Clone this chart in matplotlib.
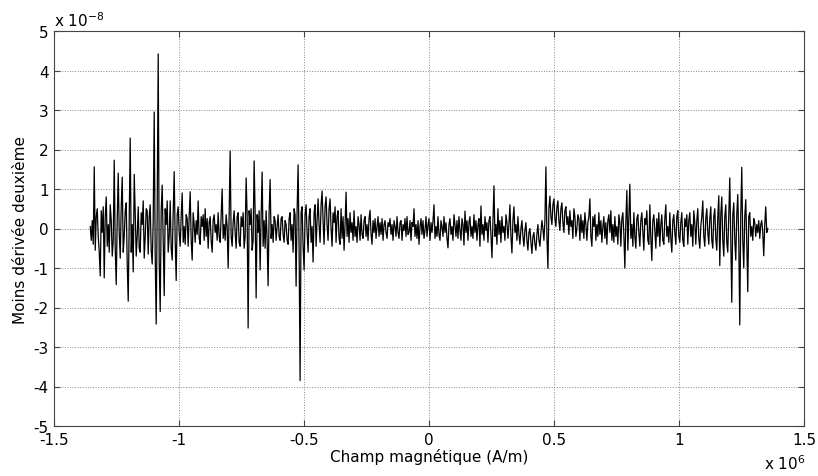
import matplotlib
matplotlib.use("Agg")
import matplotlib.pyplot as plt
from matplotlib.ticker import FuncFormatter
import numpy as np

# champ magnetique : de -1.355e6 a 1.355e6 A/m, une valeur lue par pixel
h_min, h_max = -1.355e6, 1.355e6

# moins derivee deuxieme, en unites de 1e-8, lue par troncons de 50 points
seg1 = [0.05, -0.3, 0.2, -0.4, 1.56, -0.55, 0.3, 0.5, -0.2, -0.6,
        -1.2, 0.45, -0.1, 0.55, -1.25, 0.3, 0.8, -0.45, 0.1, -0.6,
        0.6, 0.2, -0.7, -0.3, 1.73, -0.5, -1.42, 0.25, 1.4, -0.1,
        -0.75, 0.55, 1.3, -0.6, -0.2, 0.45, 0.65, -0.9, -1.84, 0.3,
        2.29, -0.6, 0.1, -1.1, 1.37, 0.4, -0.7, -0.2, 0.55, -0.5]
seg2 = [-0.6, 0.4, 0.1, 0.7, -0.75, -0.2, 0.5, 0.45, -0.65, 0.3,
        0.6, -0.55, -0.9, 0.2, 2.95, -0.7, -2.42, 0.5, 4.42, -0.8,
        -2.1, 0.45, 1.1, -0.3, -1.7, 0.5, 0.1, 0.7, -0.6, -0.2,
        0.7, -0.5, -0.8, 0.4, 1.44, -0.3, -1.32, 0.35, 0.55, -0.1,
        -0.45, 0.3, 0.9, -0.35, 0.05, -0.4, 0.35, 0.25, -0.45, 0.3]
seg3 = [0.93, -0.3, -0.8, 0.4, 0.1, -0.35, 0.2, -0.15, 0.7, -0.25,
        -0.4, 0.3, 0.05, 0.35, -0.3, 0.5, -0.2, 0.25, -0.5, 0.15,
        0.3, -0.3, -0.6, 0.2, 0.35, -0.1, 0.1, -0.3, 0.4, -0.2,
        -0.35, 0.3, 1.0, -0.25, 0.1, -0.3, 0.35, 0.05, -1.0, 0.35,
        1.96, -0.2, -0.45, 0.15, 0.45, -0.1, -0.5, 0.3, 0.4, -0.35]
seg4 = [-0.45, 0.3, 0.05, 0.4, -0.5, -0.2, 1.28, 0.35, -2.52, 0.45,
        0.1, 0.5, -0.55, -0.3, 1.71, 0.4, -1.76, 0.35, -0.1, 0.45,
        -1.05, 0.3, 1.43, -0.45, 0.2, -0.5, 0.45, -0.3, -1.45, 0.4,
        1.24, -0.25, 0.1, -0.35, 0.3, 0.2, -0.3, 0.05, 0.35, -0.2,
        -0.3, 0.25, 0.3, -0.15, -0.35, 0.2, 0.1, -0.3, -0.4, 0.25]
seg5 = [0.4, -0.3, 0.1, -0.6, 0.5, 0.35, -1.46, 0.45, 1.61, -0.5,
        -3.85, 0.4, 0.55, -0.45, -1.05, 0.35, 0.6, -0.1, -0.6, 0.3,
        0.5, -0.35, 0.05, -0.85, 0.4, 0.6, -0.45, 0.2, 0.75, 0.1,
        -0.35, 0.6, 0.95, 0.2, -0.4, 0.55, 0.8, 0.1, -0.3, 0.5,
        0.75, 0.0, -0.45, 0.4, 0.15, 0.55, -0.35, 0.3, 0.45, -0.25]
seg6 = [-0.4, 0.5, -0.25, 0.3, -0.55, 0.1, 0.92, -0.2, 0.25, -0.35,
        0.4, -0.1, 0.15, -0.3, 0.45, -0.2, 0.05, -0.35, 0.3, 0.1,
        -0.3, 0.35, -0.15, -0.25, 0.2, 0.3, -0.2, 0.1, -0.3, 0.25,
        0.46, -0.15, -0.4, 0.2, -0.1, 0.25, -0.25, 0.05, 0.3, -0.2,
        0.15, -0.15, 0.25, -0.3, 0.1, 0.2, -0.1, -0.25, 0.15, 0.05]
seg7 = [0.25, -0.15, 0.1, -0.3, 0.2, 0.05, -0.2, 0.3, -0.1, -0.25,
        0.15, 0.2, -0.3, 0.1, -0.05, 0.25, -0.2, 0.3, -0.15, -0.1,
        0.2, -0.3, 0.15, 0.05, 0.5, -0.2, 0.1, -0.25, 0.2, -0.4,
        0.05, 0.25, -0.15, 0.2, -0.25, -0.05, 0.3, -0.2, 0.1, 0.25,
        -0.3, 0.15, -0.1, 0.2, 0.6, -0.25, 0.05, -0.2, 0.3, -0.15]
seg8 = [-0.3, 0.2, 0.05, -0.2, 0.3, -0.1, 0.15, -0.25, -0.49, 0.1,
        0.25, -0.15, 0.05, -0.3, 0.35, 0.1, -0.2, 0.2, -0.25, 0.3,
        -0.05, -0.3, 0.25, 0.1, -0.42, 0.44, -0.1, 0.2, -0.3, 0.15,
        0.3, -0.2, 0.05, -0.25, 0.35, -0.1, 0.2, -0.3, 0.1, 0.25,
        -0.45, 0.57, -0.15, 0.1, -0.3, 0.3, -0.05, 0.15, -0.35, 0.2]
seg9 = [0.3, -0.15, -0.74, 0.2, 1.08, -0.2, 0.1, -0.4, 0.5, -0.15,
        0.2, -0.35, 0.3, -0.1, 0.05, -0.3, 0.35, 0.15, -0.25, 0.1,
        0.6, -0.2, -0.62, 0.2, 0.55, -0.1, 0.1, -0.3, 0.3, -0.15,
        -0.4, 0.0, 0.2, -0.2, -0.45, -0.05, 0.15, -0.3, -0.55, -0.1,
        0.0, -0.35, -0.63, -0.2, -0.1, -0.4, -0.55, -0.15, 0.1, -0.3]
seg10 = [-0.45, -0.1, 0.2, 0.0, -0.3, 0.2, 1.56, -0.2, -1.01, 0.5,
         0.82, 0.3, 0.1, 0.6, 0.75, 0.25, 0.05, 0.55, 0.7, 0.2,
         -0.05, 0.5, 0.65, 0.15, -0.1, 0.45, 0.55, 0.1, 0.3, -0.15,
         0.45, 0.05, 0.2, -0.25, 0.5, 0.3, -0.2, 0.0, 0.35, 0.25,
         -0.3, 0.35, -0.1, 0.2, -0.25, 0.4, 0.1, -0.3, 0.15, 0.3]
seg11 = [0.75, -0.2, -0.45, 0.3, 0.05, 0.35, -0.3, 0.1, -0.2, 0.4,
         -0.15, 0.2, -0.35, 0.05, 0.3, -0.25, 0.15, -0.4, 0.2, 0.35,
         -0.1, 0.45, -0.3, 0.1, -0.35, 0.3, -0.2, 0.05, -0.4, 0.35,
         0.15, -0.45, 0.25, 0.4, -0.15, -1.0, 0.2, 0.96, -0.55, 0.3,
         1.12, -0.25, 0.1, -0.45, 0.4, -0.2, -0.5, 0.25, 0.35, -0.1]
seg12 = [-0.45, 0.2, 0.4, -0.1, -0.55, 0.25, 0.1, 0.45, -0.3, -0.4,
         0.6, -0.25, -0.81, 0.2, 0.35, -0.05, -0.5, 0.25, -0.2, 0.4,
         -0.45, 0.1, 0.35, -0.3, -0.4, 0.25, 0.6, -0.2, 0.05, -0.35,
         0.4, -0.25, -0.6, 0.2, 0.35, -0.1, -0.4, 0.3, 0.45, -0.2,
         -0.35, 0.15, 0.4, -0.3, -0.45, 0.25, 0.05, 0.35, -0.4, 0.2]
seg13 = [0.4, -0.2, 0.1, -0.45, 0.45, 0.15, -0.4, 0.2, 0.5, -0.25,
         -0.5, 0.05, 0.3, 0.7, -0.2, -0.45, 0.25, 0.5, -0.1, -0.4,
         0.25, 0.55, -0.3, -0.5, 0.3, 0.5, -0.25, -0.55, 0.3, 0.83,
         -0.94, 0.35, 0.8, -0.3, -0.7, 0.3, 0.6, -0.35, -0.6, 0.3,
         1.28, -0.3, -1.87, 0.35, 0.65, -0.3, -0.8, 0.35, 0.86, -0.3]
seg14 = [-2.44, 0.35, 1.55, -0.3, -1.0, 0.3, 0.73, -0.35, -1.6, 0.3,
         0.4, -0.2, 0.05, -0.3, 0.25, 0.15, -0.2, 0.1, -0.1, 0.2,
         -0.25, 0.1, 0.2, -0.1, -0.69, 0.1, 0.55, -0.1, 0.0]

vals = np.array(seg1 + seg2 + seg3 + seg4 + seg5 + seg6 + seg7 + seg8 + seg9
                + seg10 + seg11 + seg12 + seg13 + seg14) * 1e-8
champ = np.linspace(h_min, h_max, len(vals))

xticks = [-1.5e6, -1e6, -0.5e6, 0, 0.5e6, 1e6, 1.5e6]
yticks = [k * 1e-8 for k in range(-5, 6)]

plt.rcParams['font.family'] = ['DejaVu Sans']
plt.rcParams['font.size'] = 11

fig = plt.figure(figsize=(8.18, 4.77), dpi=100)
ax = fig.add_axes([54 / 818, 50 / 477, 750 / 818, 395 / 477])

ax.plot(champ, vals, color='black', lw=0.9)

ax.set_xlim(-1.5e6, 1.5e6)
ax.set_ylim(-5e-8, 5e-8)
ax.set_xticks(xticks)
ax.set_yticks(yticks)
ax.xaxis.set_major_formatter(FuncFormatter(lambda v, p: f'{v / 1e6:g}'))
ax.yaxis.set_major_formatter(FuncFormatter(lambda v, p: f'{round(v / 1e-8):d}'))
ax.tick_params(direction='in', length=4, top=True, right=True, color='#444444',
               labelsize=11, pad=4)
for s in ax.spines.values():
    s.set_color('#444444')
    s.set_linewidth(0.8)
ax.grid(True, linestyle=':', color='#888888', lw=0.7)

ax.set_xlabel('Champ magnétique (A/m)', fontsize=11, labelpad=1)
ax.set_ylabel('Moins dérivée deuxième', fontsize=11, labelpad=4)
ax.text(0.0, 1.005, r'x 10$^{-8}$', transform=ax.transAxes, ha='left', va='bottom',
        fontsize=11)
ax.text(0.947, -0.07, r'x 10$^{6}$', transform=ax.transAxes, ha='left', va='top',
        fontsize=11)

fig.savefig('out.png', dpi=100)
